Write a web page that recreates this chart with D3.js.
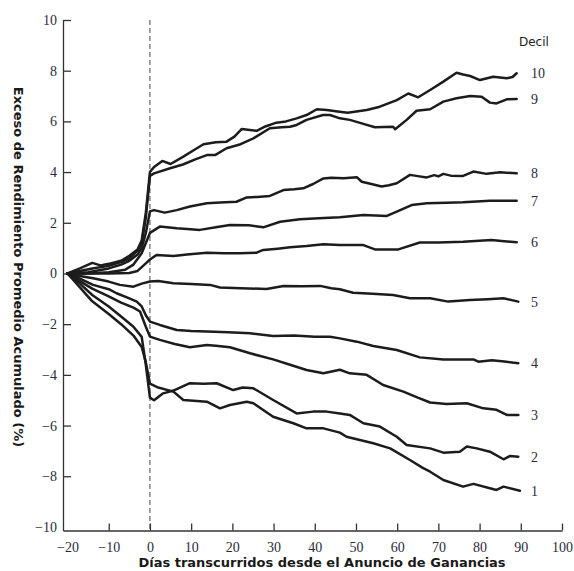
<!DOCTYPE html>
<html>
<head>
<meta charset="utf-8">
<script src="https://cdn.jsdelivr.net/npm/d3@7"></script>
<style>
  body { margin: 0; background: #fff; }
  svg { display: block; }
</style>
</head>
<body>
<div id="chart_container"></div>
<script>
// days after the announcement, cumulative abnormal return (%) per decile
const decil10 = [[-20,0],[-17,0.2],[-14,0.42],[-12,0.32],[-10,0.38],[-7,0.5],[-5,0.7],[-3,0.95],[-2,1.3],[-1,2.4],[0,4.0],[1,4.2],[3,4.44],[5,4.32],[8,4.6],[11,4.9],[13,5.1],[16,5.18],[18.6,5.2],[20.5,5.4],[22.3,5.7],[25.9,5.63],[28,5.8],[30.7,5.95],[33,6.0],[35.6,6.12],[38,6.25],[40.5,6.48],[42.9,6.45],[46,6.38],[48,6.34],[50.5,6.4],[52.6,6.45],[55.8,6.58],[59.9,6.84],[62.7,7.1],[65.1,6.95],[68,7.24],[71.2,7.57],[74.4,7.92],[76,7.85],[77.7,7.79],[80.1,7.63],[83.3,7.76],[86.6,7.7],[88,7.75],[89,7.9]];
const decil9 = [[-20,0],[-17,0.1],[-14,0.2],[-10,0.3],[-7,0.45],[-5,0.6],[-3,0.9],[-2,1.2],[-1,2.2],[0,3.85],[1,3.95],[4.9,4.15],[8,4.3],[11,4.5],[13.8,4.67],[15.8,4.67],[18.6,4.94],[22,5.1],[25.1,5.33],[29.1,5.73],[32,5.77],[34,5.79],[35.6,5.86],[38,6.06],[42,6.25],[43.7,6.25],[46.1,6.12],[48.5,6.06],[51.8,5.9],[54.6,5.77],[59,5.79],[59.5,5.69],[62.3,6.06],[64.7,6.42],[68,6.48],[71.2,6.78],[74.4,6.91],[77.7,7.0],[80.5,6.97],[82.5,6.74],[84.1,6.71],[86.6,6.87],[89,6.88]];
const decil8 = [[-20,0],[-15,0.05],[-10,0.2],[-7,0.35],[-5,0.5],[-3,0.75],[-2,1.0],[-1,1.6],[0,2.45],[1,2.5],[3.6,2.4],[6.5,2.5],[9.7,2.64],[13.8,2.77],[17,2.8],[21,2.83],[23.5,3.0],[26,3.02],[29.1,3.06],[32.4,3.29],[35,3.32],[37.2,3.36],[39.6,3.53],[42.1,3.75],[44,3.78],[47,3.76],[50.2,3.8],[51.4,3.62],[54,3.52],[56.2,3.43],[58,3.48],[59.9,3.56],[63.1,3.89],[65,3.84],[67.2,3.79],[69,3.88],[70,3.83],[71.2,3.93],[73,3.86],[76,3.85],[78.5,4.02],[81.7,3.93],[85,3.99],[89,3.95]];
const decil7 = [[-20,0],[-15,0],[-10,0.05],[-6,0.15],[-4,0.35],[-2,0.8],[-1,1.2],[0,1.6],[2.4,1.85],[6.5,1.78],[9,1.75],[12.1,1.72],[16,1.82],[19.4,1.91],[24,1.9],[27.5,1.82],[31.6,2.04],[36.4,2.14],[41,2.18],[46.1,2.22],[51.8,2.31],[57.5,2.27],[59.9,2.44],[63.5,2.7],[67.2,2.77],[72,2.79],[76,2.81],[82.5,2.87],[89,2.87]];
const decil6 = [[-20,0],[-10,0],[-5,0.02],[-3,0.1],[-1,0.4],[0,0.55],[1.6,0.73],[5.7,0.69],[9,0.75],[13.8,0.82],[18,0.8],[21.8,0.8],[25.9,0.82],[27.5,0.93],[31,0.98],[34,1.03],[38,1.08],[42.1,1.15],[46,1.12],[51.8,1.12],[54.6,0.95],[60.3,0.95],[65.5,1.22],[70,1.22],[76,1.25],[82.9,1.32],[86,1.27],[89,1.23]];
const decil5 = [[-20,0],[-17,-0.1],[-13.8,-0.19],[-10,-0.32],[-7.3,-0.45],[-4,-0.52],[-2,-0.4],[0,-0.32],[2,-0.3],[5.7,-0.39],[10,-0.42],[14.6,-0.45],[17,-0.55],[22,-0.58],[28.3,-0.61],[32.4,-0.49],[37,-0.5],[41.3,-0.49],[44,-0.58],[46.1,-0.62],[49.3,-0.76],[54,-0.8],[59,-0.85],[63.1,-0.98],[68,-0.98],[72.4,-1.11],[77.7,-1.05],[82,-1.02],[85.8,-0.98],[89.4,-1.11]];
const decil4 = [[-20,0],[-17,-0.2],[-13.8,-0.45],[-10,-0.62],[-8.1,-0.78],[-5,-0.98],[-3.2,-1.11],[-2,-1.3],[-1,-1.65],[0,-1.9],[2.4,-2.03],[6.5,-2.23],[10,-2.27],[13.8,-2.29],[19,-2.32],[24.3,-2.36],[29.9,-2.47],[35,-2.45],[40,-2.5],[43.7,-2.5],[46.1,-2.56],[50.2,-2.69],[54.2,-2.86],[59.9,-3.02],[65.5,-3.31],[71.2,-3.39],[78.5,-3.39],[79.7,-3.48],[83,-3.42],[86,-3.47],[89.4,-3.54]];
const decil3 = [[-20,0],[-17,-0.3],[-14,-0.6],[-10,-0.9],[-7,-1.15],[-4,-1.35],[-2.4,-1.5],[-1,-2.1],[0,-2.49],[2.4,-2.62],[6,-2.78],[9.7,-2.91],[13.8,-2.82],[16,-2.85],[19.4,-2.91],[24.3,-3.15],[29.9,-3.39],[34,-3.6],[38,-3.81],[42.1,-3.94],[46.1,-3.8],[48.5,-3.94],[52.6,-4.0],[56.6,-4.4],[61.5,-4.66],[65,-4.9],[68,-5.09],[72,-5.15],[76.9,-5.12],[80.9,-5.32],[84.1,-5.38],[86.6,-5.58],[89.4,-5.58]];
const decil2 = [[-20,0],[-17,-0.4],[-14,-0.85],[-10,-1.3],[-7,-1.7],[-4,-2.1],[-2,-2.5],[-1,-3.6],[0,-4.9],[1,-5.0],[3.2,-4.73],[5.7,-4.62],[9.7,-4.33],[13,-4.35],[16.2,-4.33],[20.2,-4.6],[22.5,-4.5],[25.1,-4.53],[29.9,-4.99],[35.6,-5.52],[39.6,-5.45],[42.9,-5.45],[46.1,-5.52],[48.5,-5.58],[51.8,-5.91],[55.8,-6.04],[59.9,-6.44],[62.3,-6.77],[68,-6.9],[71.2,-7.07],[75.2,-7.03],[76.9,-6.83],[79.3,-6.9],[82.5,-7.03],[85.8,-7.33],[87.4,-7.2],[89.4,-7.23]];
const decil1 = [[-20,0],[-17,-0.55],[-14,-1.1],[-10,-1.6],[-7,-2.0],[-4,-2.45],[-2,-2.9],[-1,-3.5],[0,-4.35],[2,-4.5],[5.7,-4.66],[8.1,-4.99],[13.8,-5.06],[17,-5.32],[19.4,-5.19],[23.5,-5.06],[25.1,-5.12],[29.9,-5.65],[34.8,-5.91],[38,-6.11],[42.1,-6.11],[46.1,-6.28],[47.7,-6.44],[54.2,-6.7],[58.3,-6.9],[63.1,-7.36],[66.3,-7.68],[68,-7.82],[71.2,-8.15],[76,-8.41],[78.5,-8.3],[82.5,-8.47],[84.1,-8.54],[85.8,-8.41],[89.8,-8.57]];

const decile_names = ["1", "2", "3", "4", "5", "6", "7", "8", "9", "10"];
const decile_series = [decil1, decil2, decil3, decil4, decil5, decil6, decil7, decil8, decil9, decil10];
const x_ticks = [-20, -10, 0, 10, 20, 30, 40, 50, 60, 70, 80, 90, 100];
const y_ticks = [-10, -8, -6, -4, -2, 0, 2, 4, 6, 8, 10];

const chart_width = 574, chart_height = 571;

const svg = d3.select("#chart_container")
    .append("svg")
    .attr("width", chart_width)
    .attr("height", chart_height)
    .style("font-family", "'Liberation Serif', serif");

const x = d3.scaleLinear().domain([-21.1, 100]).range([63, 562]);
const y = d3.scaleLinear().domain([-10.14, 10]).range([530.5, 20]);

const fmt = d => (d < 0 ? "\u2212" + Math.abs(d) : String(d));

// x axis, ticks pointing inside
const xAxis = svg.append("g")
    .attr("transform", `translate(0, ${y(-10.14)})`)
    .call(d3.axisBottom(x).tickValues(x_ticks).tickSize(-7).tickSizeOuter(0).tickPadding(12).tickFormat(fmt));

// y axis
const yAxis = svg.append("g")
    .attr("transform", `translate(${x(-21.1)}, 0)`)
    .call(d3.axisLeft(y).tickValues(y_ticks).tickSize(-8).tickSizeOuter(0).tickPadding(6).tickFormat(fmt));

[xAxis, yAxis].forEach(function (g) {
    g.select(".domain").attr("stroke", "#333").attr("stroke-width", 1.3);
    g.selectAll(".tick line").attr("stroke", "#333").attr("stroke-width", 1.3);
    g.selectAll(".tick text")
        .attr("fill", "#2b2b3a")
        .style("font-family", "'Liberation Serif', serif")
        .style("font-size", "14px");
});
// keep the -20 tick from doubling the axis line
xAxis.selectAll(".tick").filter(d => d === -20).select("line").remove();
yAxis.selectAll(".tick").filter(d => d === -10).select("line").attr("x2", -8).remove();

// announcement day
svg.append("line")
    .attr("x1", x(0)).attr("x2", x(0))
    .attr("y1", y(10)).attr("y2", y(-10.14))
    .attr("stroke", "#444")
    .attr("stroke-width", 1)
    .attr("stroke-dasharray", "5,3");

const line = d3.line()
    .x(d => x(d[0]))
    .y(d => y(d[1]));

svg.append("g")
    .selectAll("path")
    .data(decile_series)
    .enter()
    .append("path")
    .attr("d", line)
    .attr("fill", "none")
    .attr("stroke", "#1c1c1c")
    .attr("stroke-width", 2.5)
    .attr("stroke-linejoin", "round")
    .attr("stroke-linecap", "round");

// end labels
svg.append("g")
    .selectAll("text")
    .data(decile_series)
    .enter()
    .append("text")
    .attr("x", x(92.5))
    .attr("y", d => y(d[d.length - 1][1]))
    .attr("dy", "0.35em")
    .attr("fill", "#2b2b3a")
    .style("font-size", "14px")
    .text((d, i) => decile_names[i]);

svg.append("text")
    .attr("x", 519)
    .attr("y", 46)
    .style("font-family", "'DejaVu Sans', sans-serif")
    .style("font-size", "12px")
    .attr("fill", "#222")
    .text("Decil");

// axis titles
svg.append("text")
    .attr("x", 322)
    .attr("y", 567)
    .attr("text-anchor", "middle")
    .style("font-family", "'DejaVu Sans', sans-serif")
    .style("font-size", "13px")
    .style("font-weight", "700")
    .attr("fill", "#1a1a1a")
    .text("Días transcurridos desde el Anuncio de Ganancias");

svg.append("text")
    .attr("transform", "translate(14, 267) rotate(90)")
    .attr("text-anchor", "middle")
    .style("font-family", "'DejaVu Sans', sans-serif")
    .style("font-size", "13px")
    .style("font-weight", "700")
    .attr("fill", "#1a1a1a")
    .text("Exceso de Rendimiento Promedio Acumulado (%)");
</script>
</body>
</html>
